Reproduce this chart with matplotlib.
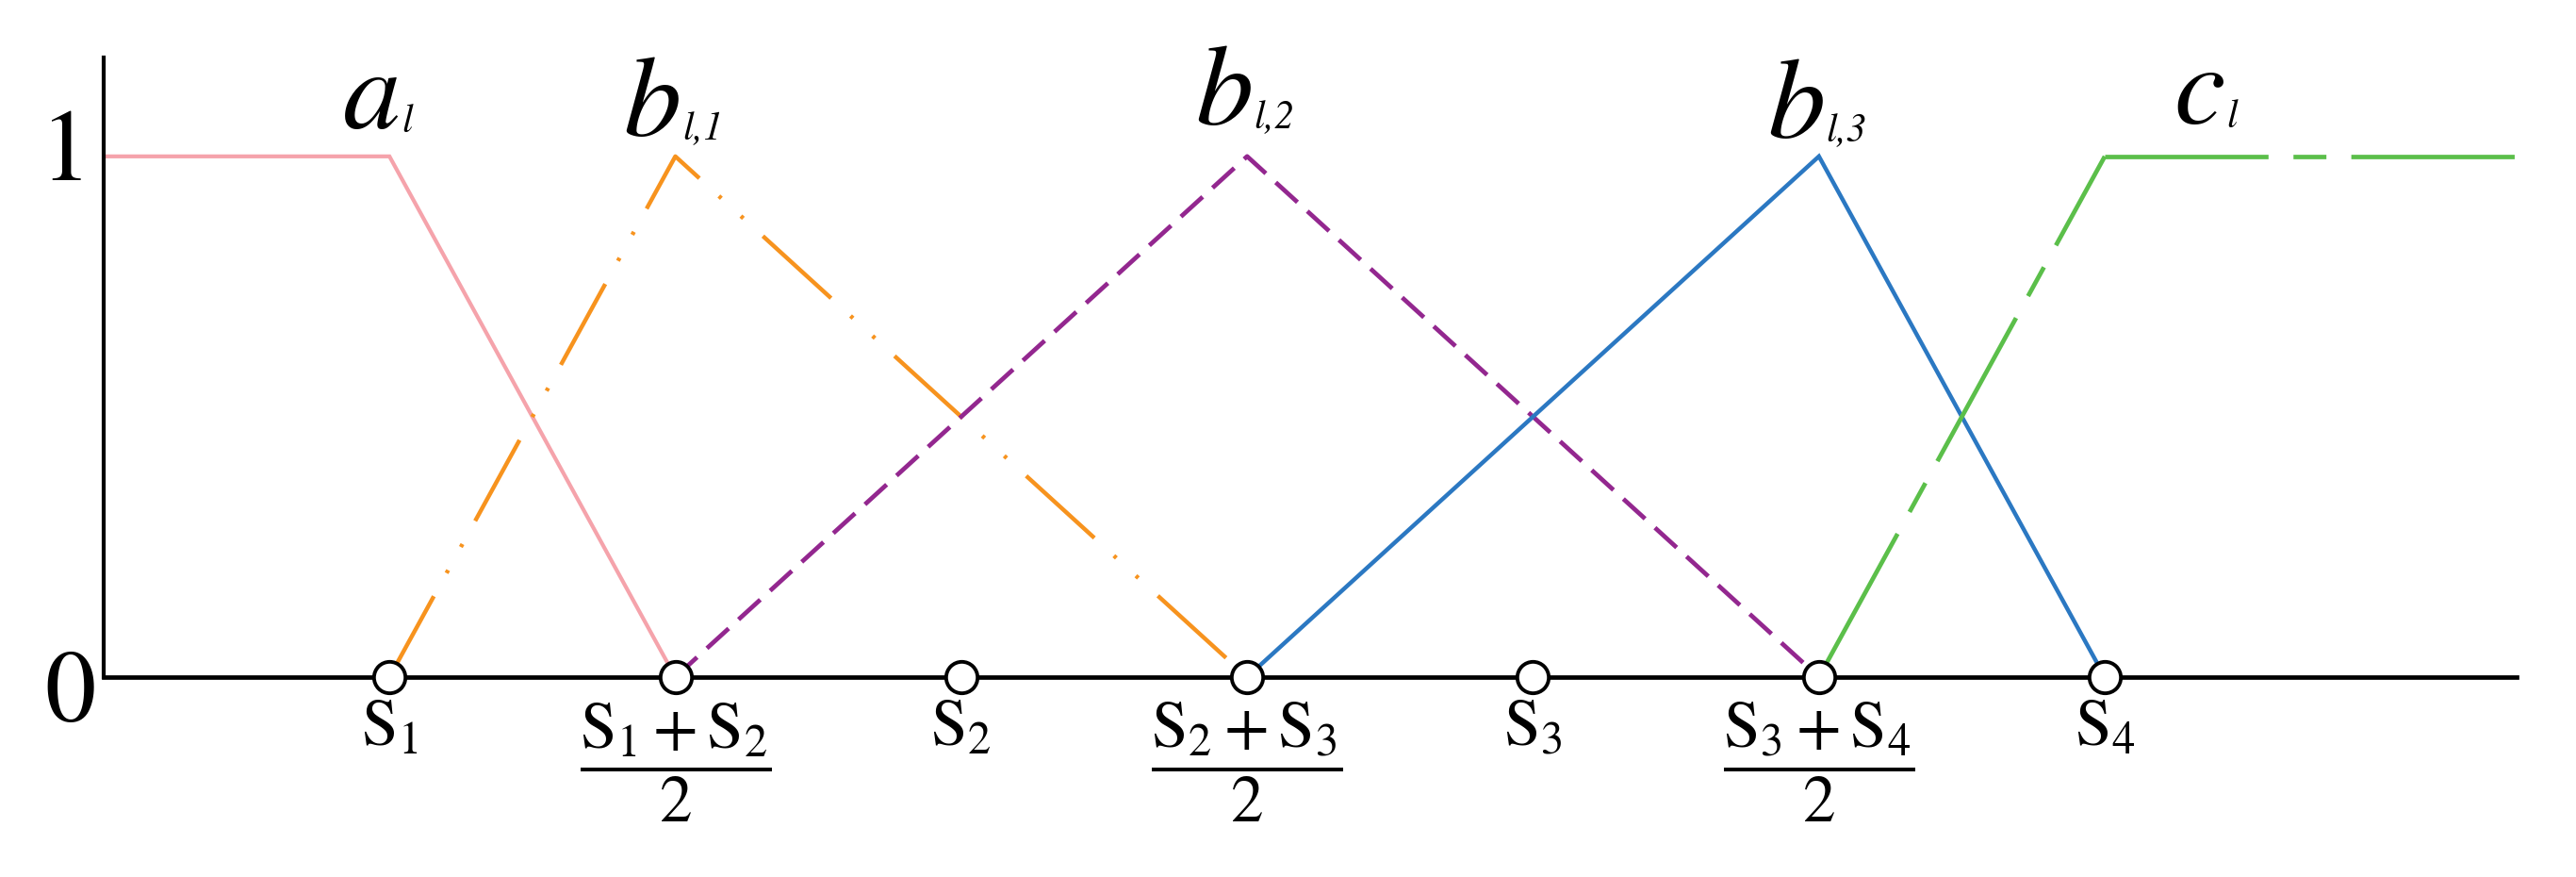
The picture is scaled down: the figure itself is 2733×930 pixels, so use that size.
import numpy as np
import matplotlib
matplotlib.use('Agg')
import matplotlib.pyplot as plt

plt.rcParams['mathtext.fontset'] = 'stix'
plt.rcParams['font.family'] = ['STIXGeneral', 'DejaVu Serif']

# breakpoints on the horizontal axis
x_ticks = [1.0, 1.5, 2.0, 2.5, 3.0, 3.5, 4.0]
x_tick_labels = [r'$\mathrm{S}_1$',
                 r'$\genfrac{}{}{4}{0}{\mathrm{S}_1+\mathrm{S}_2}{2}$',
                 r'$\mathrm{S}_2$',
                 r'$\genfrac{}{}{4}{0}{\mathrm{S}_2+\mathrm{S}_3}{2}$',
                 r'$\mathrm{S}_3$',
                 r'$\genfrac{}{}{4}{0}{\mathrm{S}_3+\mathrm{S}_4}{2}$',
                 r'$\mathrm{S}_4$']
x_min, x_max = 0.5, 4.72

# membership functions
a_x = [0.5, 1.0, 1.5]
a_y = [1, 1, 0]
b1_x = [1.0, 1.5, 2.5]
b1_y = [0, 1, 0]
b2_x = [1.5, 2.5, 3.5]
b2_y = [0, 1, 0]
b3_x = [2.5, 3.5, 4.0]
b3_y = [0, 1, 0]
c_x = [3.5, 4.0, 4.72]
c_y = [0, 1, 1]

# curve names: main letter + subscript
name_main = ['a', 'b', 'b', 'b', 'c']
name_sub = ['l', 'l,1', 'l,2', 'l,3', 'l']
name_x = [1.02, 1.51, 2.51, 3.51, 4.21]
name_y = [1.054, 1.040, 1.062, 1.036, 1.063]

fig = plt.figure(figsize=(27.33, 9.30), dpi=100)
ax = fig.add_axes([0.0402, 0.228, 0.9367, 0.7065])

ax.plot(a_x, a_y, color='#F5A3AB', lw=3.0, solid_joinstyle='miter')
ax.plot(b1_x, b1_y, color='#F7931E', lw=3.2, dash_capstyle='butt',
        ls=(0, (22, 6.3, 0.8, 6.3, 0.8, 6.3)))
ax.plot(b2_x, b2_y, color='#93278F', lw=3.4, ls=(0, (6.6, 3.0)))
ax.plot(b3_x, b3_y, color='#2B78C2', lw=3.2, solid_joinstyle='miter')
# green line: dash pattern restarts on each segment
for i in range(len(c_x) - 1):
    ax.plot(c_x[i:i + 2], c_y[i:i + 2], color='#5BBF4A', lw=3.4,
            dash_capstyle='butt', ls=(0, (36.7, 5.6, 7.4, 5.6)))

# open circles on the axis
ax.plot(x_ticks, np.zeros(len(x_ticks)), 'o', ms=24, mfc='white', mec='black',
        mew=2.8, clip_on=False, zorder=5)

ax.set_xlim(x_min, x_max)
ax.set_ylim(0, 1.19)
ax.spines['top'].set_visible(False)
ax.spines['right'].set_visible(False)
ax.spines['left'].set_linewidth(3.0)
ax.spines['bottom'].set_linewidth(3.4)

ax.set_xticks(x_ticks)
ax.set_xticklabels(x_tick_labels, fontsize=50)
ax.tick_params(axis='x', length=0, pad=18)
ax.set_yticks([])

ytrans = ax.get_yaxis_transform()
ax.text(-0.0156, 1.0, '1', transform=ytrans, ha='center', va='center', fontsize=78)
ax.text(-0.0140, -0.038, '0', transform=ytrans, ha='center', va='center', fontsize=78)

for m, s, x, y in zip(name_main, name_sub, name_x, name_y):
    ax.text(x, y, m, ha='right', va='baseline', fontsize=88, style='italic')
    ax.annotate(s, xy=(x, y), xytext=(1, -3), textcoords='offset points',
                ha='left', va='baseline', fontsize=30, style='italic')

fig.savefig('out.png', dpi=100)
